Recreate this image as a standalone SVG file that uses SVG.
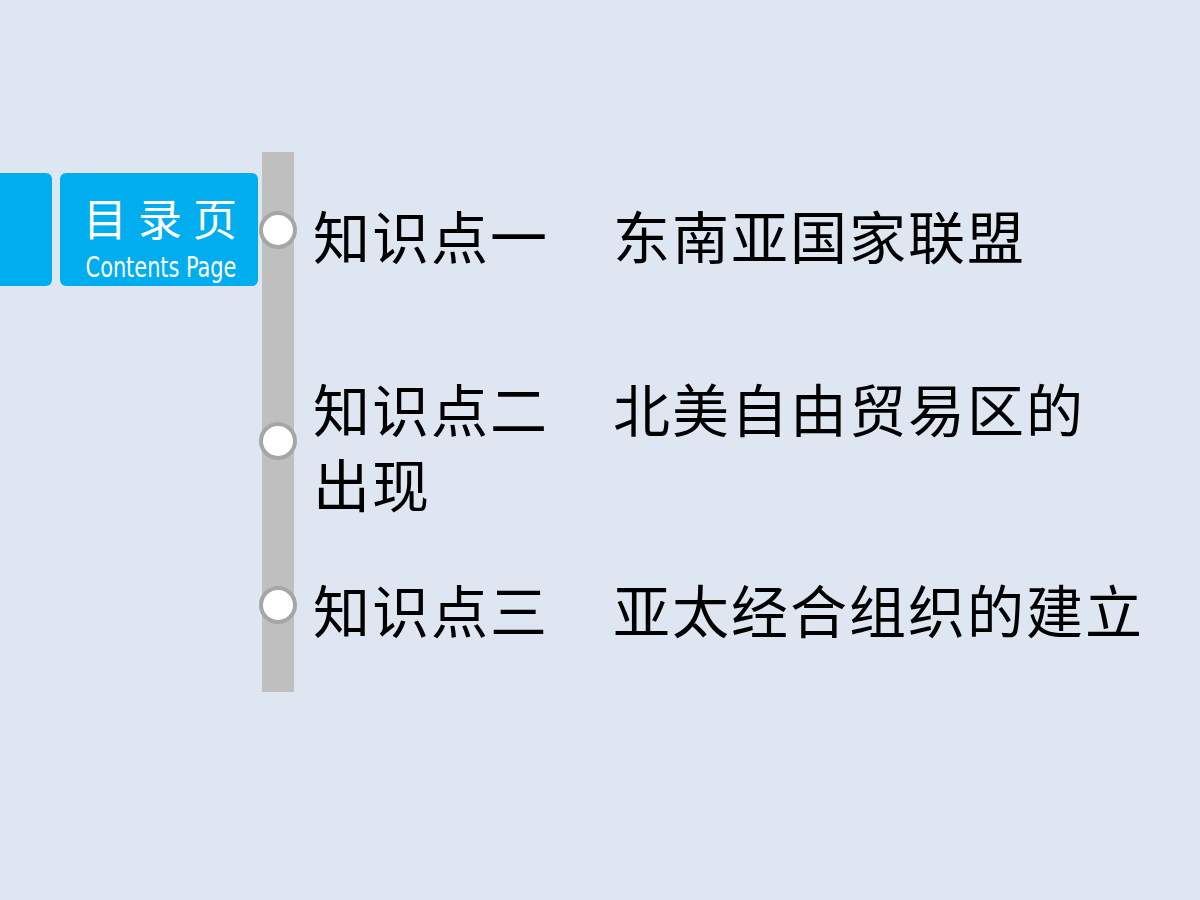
<svg xmlns="http://www.w3.org/2000/svg" width="1200" height="900" viewBox="0 0 1200 900">
<style>
.t{font-family:"Noto Sans CJK SC",sans-serif;font-size:57px;letter-spacing:2px;fill:#000}
.dot{fill:#fff;stroke:#a6a6a6;stroke-width:4}
</style>
<rect width="1200" height="900" fill="#dde6f1"/>
<g id="header">
<rect x="-8" y="173" width="60" height="113" rx="6" fill="#00adee"/>
<rect x="60" y="173" width="198" height="113" rx="6" fill="#00adee"/>
<text x="83" y="236" font-family="Noto Sans CJK SC,sans-serif" font-size="44" fill="#fff" letter-spacing="11">目录页</text>
<text x="161" y="277" text-anchor="middle" font-family="Liberation Sans Narrow,DejaVu Sans Condensed,sans-serif" font-size="29" fill="#fff" transform="translate(161,0) scale(0.8,1) translate(-161,0)">Contents Page</text>
</g>
<g id="connectors">
<rect x="262" y="152" width="32" height="540" fill="#bfbfbf"/>
</g>
<g id="item1"><circle class="dot" cx="278" cy="230" r="17"/>
<text class="t" x="313" y="259">知识点一</text><text class="t" x="613" y="259">东南亚国家联盟</text></g>
<g id="item2"><circle class="dot" cx="278" cy="441" r="17"/>
<text class="t" x="313" y="432">知识点二</text><text class="t" x="613" y="432">北美自由贸易区的</text>
<text class="t" x="313" y="507">出现</text></g>
<g id="item3"><circle class="dot" cx="278" cy="605" r="17"/>
<text class="t" x="313" y="633">知识点三</text><text class="t" x="613" y="633">亚太经合组织的建立</text></g>
</svg>
